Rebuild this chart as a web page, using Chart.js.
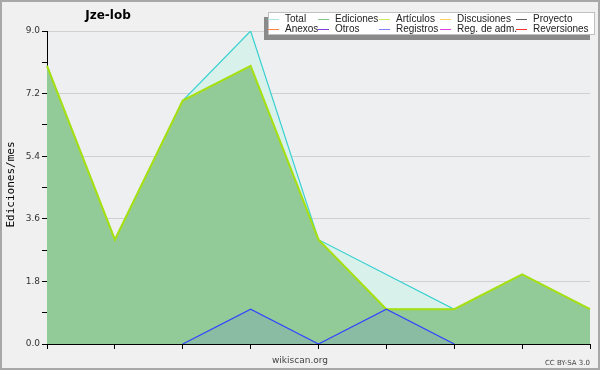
<!DOCTYPE html>
<html>
<head>
<meta charset="utf-8">
<script src="https://cdn.jsdelivr.net/npm/chart.js@4/dist/chart.umd.min.js"></script>
<style>
  html, body { margin: 0; padding: 0; background: #f0f0f0; }
  #wrap { width: 600px; height: 370px; }
</style>
</head>
<body>
<div id="wrap"><canvas id="chart" width="600" height="370"></canvas></div>
<script>
// monthly buckets (no labels shown on the x axis)
const months = ['1', '2', '3', '4', '5', '6', '7', '8', '9'];
const total = [8, 3, 7, 9, 3, 2, 1, 2, 1];
const ediciones = [8, 3, 7, 8, 3, 1, 1, 2, 1];
const articulos = [8, 3, 7, 8, 3, 1, 1, 2, 1];
const registros = [null, null, 0, 1, 0, 1, 0, null, null];
const yTicks = [0, 1.8, 3.6, 5.4, 7.2, 9.0];

const legendItems = [
  ['Total', '#a8e4e0'], ['Ediciones', '#80c888'], ['Artículos', '#c8ec60'],
  ['Discusiones', '#ffd060'], ['Proyecto', '#606060'],
  ['Anexos', '#ff8040'], ['Otros', '#8040e0'], ['Registros', '#8080ff'],
  ['Reg. de adm.', '#e040e0'], ['Reversiones', '#ff3030']
];
const legendCols = [285, 335, 396, 457, 533];

const decor = {
  id: 'decor',
  beforeDraw(chart) {
    const ctx = chart.ctx, a = chart.chartArea;
    ctx.save();
    ctx.fillStyle = '#f0f0f0';
    ctx.fillRect(0, 0, chart.width, chart.height);
    ctx.fillStyle = '#eeeff1';
    ctx.fillRect(a.left, a.top, a.right - a.left, a.bottom - a.top);
    ctx.restore();
  },
  afterDraw(chart) {
    const ctx = chart.ctx, a = chart.chartArea;
    ctx.save();
    // outer frame
    ctx.strokeStyle = '#a8a8a8';
    ctx.lineWidth = 2;
    ctx.strokeRect(1, 1, chart.width - 2, chart.height - 2);

    // title
    ctx.fillStyle = '#000';
    ctx.font = 'bold 12px "DejaVu Sans"';
    ctx.textAlign = 'center';
    ctx.textBaseline = 'middle';
    ctx.fillText('Jze-lob', 108, 16);

    // y axis title
    ctx.save();
    ctx.translate(11, (a.top + a.bottom) / 2 - 3);
    ctx.rotate(-Math.PI / 2);
    ctx.font = '11px "DejaVu Sans Mono"';
    ctx.fillText('Ediciones/mes', 0, 0);
    ctx.restore();

    // footer texts
    ctx.fillStyle = '#444';
    ctx.font = '9px "DejaVu Sans"';
    ctx.fillText('wikiscan.org', 300, 361);
    ctx.font = '7px "DejaVu Sans"';
    ctx.textAlign = 'right';
    ctx.fillText('CC BY-SA 3.0', 590, 363);

    // legend box with shadow
    ctx.fillStyle = '#8a8a8a';
    ctx.fillRect(264, 17, 326, 23);
    ctx.fillStyle = '#fff';
    ctx.fillRect(268, 12, 327, 23);
    ctx.strokeStyle = '#c0c0c0';
    ctx.lineWidth = 1;
    ctx.strokeRect(268.5, 12.5, 326, 22);
    ctx.font = '10px "Liberation Sans"';
    ctx.textAlign = 'left';
    legendItems.forEach((it, i) => {
      const col = i % 5, row = Math.floor(i / 5);
      const x = legendCols[col], y = 19 + row * 10;
      ctx.strokeStyle = it[1];
      ctx.beginPath();
      ctx.moveTo(x - 17, y + 0.5);
      ctx.lineTo(x - 6, y + 0.5);
      ctx.stroke();
      ctx.fillStyle = '#222';
      ctx.fillText(it[0], x, y);
    });
    ctx.restore();
  }
};

new Chart(document.getElementById('chart'), {
  type: 'line',
  data: {
    labels: months,
    datasets: [
      {
        label: 'Total', data: total, order: 4,
        borderColor: '#38d0d0', borderWidth: 1.2,
        backgroundColor: '#d8f1ea', fill: 'origin'
      },
      {
        label: 'Ediciones', data: ediciones, order: 3,
        borderColor: '#80c888', borderWidth: 1,
        backgroundColor: '#92ca98', fill: 'origin'
      },
      {
        label: 'Artículos', data: articulos, order: 2,
        borderColor: '#a6e010', borderWidth: 2, fill: false
      },
      {
        label: 'Registros', data: registros, order: 1,
        borderColor: '#3344ff', borderWidth: 1.2,
        backgroundColor: 'rgba(60,70,255,0.1)', fill: 'origin'
      }
    ]
  },
  options: {
    responsive: false,
    animation: false,
    events: [],
    layout: { padding: { top: 31, right: 10, left: 0, bottom: 0 } },
    elements: { point: { radius: 0 }, line: { tension: 0 } },
    plugins: { legend: { display: false }, title: { display: false }, tooltip: { enabled: false } },
    scales: {
      x: {
        offset: false,
        afterFit(scale) { scale.height = 26; },
        border: { color: '#000', width: 1 },
        grid: { drawOnChartArea: false, tickLength: 5, tickColor: '#000' },
        ticks: { callback: () => '', maxRotation: 0, autoSkip: false }
      },
      y: {
        min: 0, max: 9,
        afterFit(scale) { scale.width = 47; },
        border: { color: '#000', width: 1 },
        grid: {
          tickLength: 5, tickColor: '#000',
          color: (c) => yTicks.some(v => Math.abs(v - c.tick.value) < 1e-6) && c.tick.value > 0 ? '#d0d0d0' : 'rgba(0,0,0,0)'
        },
        ticks: {
          stepSize: 0.9, autoSkip: false, padding: 2,
          color: '#333', font: { family: 'DejaVu Sans', size: 9 },
          callback: (v) => yTicks.some(t => Math.abs(t - v) < 1e-6) ? v.toFixed(1) : ''
        }
      }
    }
  },
  plugins: [decor]
});
</script>
</body>
</html>
